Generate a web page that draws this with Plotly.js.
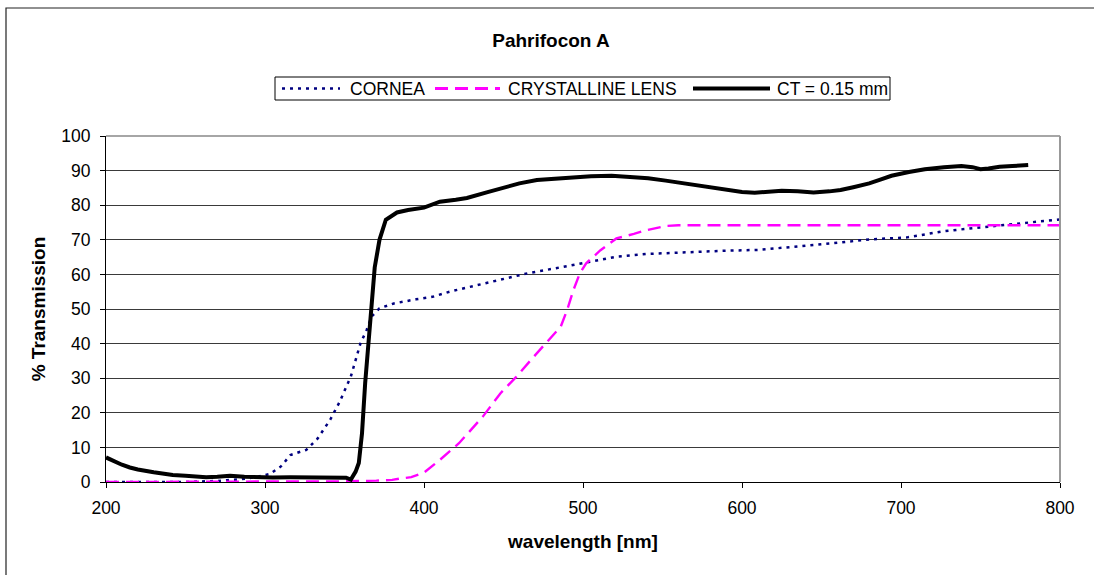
<!DOCTYPE html>
<html>
<head>
<meta charset="utf-8">
<script src="https://cdn.plot.ly/plotly-3.0.1.min.js"></script>
<style>
  html, body { margin: 0; padding: 0; background: #fff; }
  #chart { width: 1094px; height: 575px; }
</style>
</head>
<body>
<div id="chart"></div>
<script>
// ---- data ----
const chartTitle = "Pahrifocon A";
const xTitle = "wavelength [nm]";
const yTitle = "% Transmission";
const xTickVals = [200, 300, 400, 500, 600, 700, 800];
const yTickVals = [0, 10, 20, 30, 40, 50, 60, 70, 80, 90, 100];

const corneaName = "CORNEA";
const corneaWl = [200, 250, 270, 285, 295, 303, 310, 316, 326, 333, 341, 347, 354, 360, 364, 367, 372, 381, 395, 406, 416, 431, 448, 465, 483, 500, 521, 540, 560, 587, 611, 634, 657, 680, 704, 727, 750, 773, 794, 800];
const corneaT  = [0, 0, 0.3, 0.8, 1.5, 2.3, 4.5, 7.8, 9.3, 12.5, 18, 23.2, 30.5, 40, 44, 47.8, 50.2, 51.6, 52.8, 53.6, 55, 56.6, 58.6, 60.3, 61.8, 63.2, 65.1, 65.9, 66.3, 66.8, 67.1, 68, 69, 70.1, 70.7, 72.5, 73.6, 74.6, 75.7, 75.9];

const lensName = "CRYSTALLINE LENS";
const lensWl = [200, 250, 300, 350, 370, 380, 385, 392, 400, 410, 422, 437, 448, 458, 469, 479, 486, 490, 494, 498, 502, 511, 521, 532, 540, 552, 560, 600, 700, 800];
const lensT  = [0, 0, 0, 0.2, 0.4, 0.6, 1.0, 1.4, 2.7, 6.4, 11.2, 18.9, 25.6, 30.4, 36.2, 41.5, 44.9, 49.7, 55.5, 60.3, 63.2, 67, 70.4, 71.7, 72.8, 74, 74.2, 74.2, 74.2, 74.2];

const ctName = "CT = 0.15 mm";
const ctWl = [200, 205, 210, 215, 220, 230, 242, 250, 263, 270, 278, 287, 295, 305, 316, 326, 336, 346, 351, 354, 357, 359, 361, 363, 365, 367, 369, 372, 376, 383, 390, 400, 405, 410, 420, 427, 440, 448, 460, 471, 480, 494, 505, 518, 530, 541, 552, 564, 576, 587, 600, 608, 616, 625, 635, 645, 655, 662, 670, 680, 687, 694, 705, 715, 727, 738, 745, 750, 755, 762, 770, 780];
const ctT  = [7.1, 6.0, 5.0, 4.2, 3.6, 2.8, 2.0, 1.8, 1.4, 1.5, 1.8, 1.5, 1.3, 1.3, 1.35, 1.3, 1.15, 1.25, 1.25, 0.7, 3.0, 5.5, 14, 28.6, 41, 52.6, 62, 70, 75.8, 77.9, 78.6, 79.3, 80.3, 81.0, 81.6, 82.1, 83.8, 84.9, 86.3, 87.3, 87.6, 88.2, 88.4, 88.5, 88.2, 87.8, 87.1, 86.3, 85.5, 84.6, 83.8, 83.6, 83.9, 84.2, 84.0, 83.7, 84.0, 84.4, 85.2, 86.3, 87.4, 88.5, 89.6, 90.4, 91.0, 91.3, 91.0, 90.4, 90.6, 91.1, 91.3, 91.6];

// ---- styles ----
const FONT = '"Liberation Sans", Arial, Helvetica, sans-serif';
const FS = 17.5, FSB = 19;
const corneaLine = {color: '#000080', width: 2.5, dash: '3px,5px'};
const lensLine   = {color: '#FF00FF', width: 2.4, dash: '13px,7px'};
const ctLine     = {color: '#000000', width: 4};

const traces = [
  {x: corneaWl, y: corneaT, name: corneaName, type: 'scatter', mode: 'lines', line: corneaLine, showlegend: false},
  {x: lensWl, y: lensT, name: lensName, type: 'scatter', mode: 'lines', line: lensLine, showlegend: false},
  {x: ctWl, y: ctT, name: ctName, type: 'scatter', mode: 'lines', line: ctLine, showlegend: false}
];

// pixel -> paper helpers for the layout (plot area 106..1060 x, 136..482 y)
const L = 106, R = 1060, T = 136, B = 482;
const px = v => (v - L) / (R - L);
const py = v => (B - v) / (B - T);

const legY = py(88.5);
const legendItems = [
  {line: corneaLine, x0: 282, x1: 340, tx: 348, text: corneaName},
  {line: lensLine,   x0: 435, x1: 500, tx: 506, text: lensName},
  {line: ctLine,     x0: 693, x1: 770, tx: 775, text: ctName}
];

const shapes = [
  // outer chart frame
  {type: 'rect', xref: 'paper', yref: 'paper', x0: px(6), x1: px(1110), y0: py(590), y1: py(8),
   line: {color: '#222', width: 1.2}, fillcolor: 'rgba(0,0,0,0)', layer: 'below'},
  // plot area gray border (top, right)
  {type: 'line', xref: 'paper', yref: 'paper', x0: 0, x1: 1, y0: 1, y1: 1, line: {color: '#888', width: 1.5}},
  {type: 'line', xref: 'paper', yref: 'paper', x0: 1, x1: 1, y0: 0, y1: 1, line: {color: '#999', width: 2}},
  // legend box
  {type: 'rect', xref: 'paper', yref: 'paper', x0: px(275), x1: px(890), y0: py(100), y1: py(77),
   line: {color: '#000', width: 1}, fillcolor: 'rgba(0,0,0,0)'}
];
const annotations = [];
legendItems.forEach(it => {
  const ln = Object.assign({}, it.line);
  if (it.line === lensLine) ln.width = 3;
  shapes.push({type: 'line', xref: 'paper', yref: 'paper', x0: px(it.x0), x1: px(it.x1), y0: legY, y1: legY, line: ln});
  annotations.push({xref: 'paper', yref: 'paper', x: px(it.tx), y: legY, xanchor: 'left', yanchor: 'middle',
    text: it.text, showarrow: false, font: {family: FONT, size: FS, color: '#000'}});
});

const layout = {
  width: 1094, height: 575,
  margin: {l: L, r: 1094 - R, t: T, b: 575 - B, pad: 0},
  paper_bgcolor: '#fff', plot_bgcolor: '#fff',
  font: {family: FONT, size: FS, color: '#000'},
  title: {text: chartTitle, xref: 'container', yref: 'container', x: 551 / 1094, y: 1 - 40 / 575,
          xanchor: 'center', yanchor: 'middle', font: {family: FONT, size: FSB, weight: 'bold', color: '#000'}},
  showlegend: false,
  xaxis: {
    range: [200, 800], tickvals: xTickVals, ticktext: xTickVals.map(String),
    ticks: 'outside', ticklen: 5, tickcolor: '#000', tickwidth: 1,
    showline: true, linecolor: '#000', linewidth: 1, showgrid: false, zeroline: false,
    tickfont: {family: FONT, size: FS, color: '#000'}, ticklabelstandoff: 5,
    title: {text: xTitle, standoff: 17, font: {family: FONT, size: FSB, weight: 'bold', color: '#000'}},
    automargin: false, fixedrange: true
  },
  yaxis: {
    range: [0, 100], tickvals: yTickVals, ticktext: yTickVals.map(String),
    ticks: 'outside', ticklen: 5, tickcolor: '#000', tickwidth: 1,
    showline: true, linecolor: '#000', linewidth: 1,
    showgrid: true, gridcolor: '#3a3a3a', gridwidth: 1, zeroline: false,
    tickfont: {family: FONT, size: FS, color: '#000'}, ticklabelstandoff: 6,
    title: {text: yTitle, standoff: 10, font: {family: FONT, size: FSB, weight: 'bold', color: '#000'}},
    automargin: false, fixedrange: true
  },
  shapes: shapes,
  annotations: annotations
};

Plotly.newPlot('chart', traces, layout, {staticPlot: true, displayModeBar: false});
</script>
</body>
</html>
